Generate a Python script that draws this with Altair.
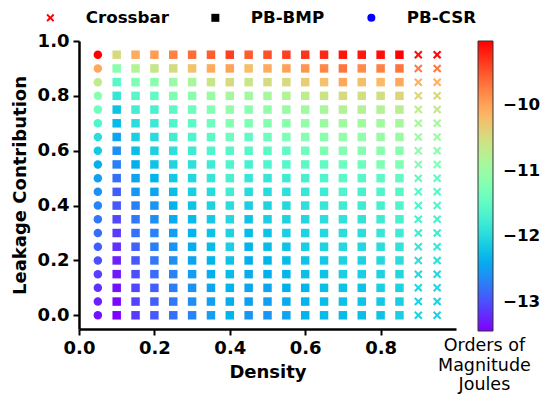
import altair as alt
import pandas as pd
import numpy as np

# Density (x) columns and leakage (y) rows
density = [0.05, 0.10, 0.15, 0.20, 0.25, 0.30, 0.35, 0.40, 0.45, 0.50,
           0.55, 0.60, 0.65, 0.70, 0.75, 0.80, 0.85, 0.90, 0.95]
architecture = ["PB-CSR"] + ["PB-BMP"] * 16 + ["Crossbar"] * 2
leakage = [0.95, 0.90, 0.85, 0.80, 0.75, 0.70, 0.65, 0.60, 0.55, 0.50,
           0.45, 0.40, 0.35, 0.30, 0.25, 0.20, 0.15, 0.10, 0.05, 0.00]

# Orders of magnitude (Joules), one list per leakage row (top to bottom)
energy = [
    [-9.03, -10.49, -10.07, -9.96, -9.78, -9.65, -9.56, -9.38, -9.54, -9.47, -9.38, -9.32, -9.25, -9.14, -9.16, -9.10, -9.03, -9.12, -9.07],
    [-10.04, -11.15, -10.79, -10.62, -10.49, -10.26, -10.07, -10.00, -10.22, -10.07, -10.00, -9.91, -9.82, -9.69, -9.85, -9.78, -9.69, -9.74, -9.74],
    [-10.68, -11.57, -11.24, -11.15, -11.00, -10.88, -10.62, -10.49, -10.62, -10.51, -10.49, -10.35, -10.26, -10.04, -10.22, -10.18, -10.04, -10.11, -10.11],
    [-11.15, -11.87, -11.57, -11.50, -11.24, -11.15, -11.00, -10.88, -10.93, -10.88, -10.79, -10.71, -10.57, -10.49, -10.53, -10.53, -10.44, -10.44, -10.44],
    [-11.39, -12.21, -11.76, -11.70, -11.54, -11.39, -11.19, -11.06, -11.15, -11.06, -11.00, -10.93, -10.88, -10.79, -10.79, -10.79, -10.71, -10.71, -10.66],
    [-11.65, -12.29, -11.96, -11.81, -11.65, -11.54, -11.39, -11.19, -11.24, -11.19, -11.15, -11.06, -11.00, -10.93, -10.93, -10.93, -10.88, -10.88, -10.88],
    [-11.96, -12.45, -12.10, -11.98, -11.76, -11.65, -11.54, -11.39, -11.50, -11.39, -11.24, -11.19, -11.15, -11.06, -11.06, -11.00, -11.00, -11.00, -11.00],
    [-12.16, -12.60, -12.25, -12.10, -11.94, -11.79, -11.65, -11.59, -11.59, -11.54, -11.50, -11.39, -11.24, -11.19, -11.19, -11.15, -11.15, -11.15, -11.15],
    [-12.38, -12.71, -12.38, -12.21, -12.05, -11.94, -11.79, -11.65, -11.72, -11.65, -11.59, -11.54, -11.50, -11.39, -11.39, -11.24, -11.24, -11.24, -11.24],
    [-12.49, -12.80, -12.45, -12.34, -12.16, -12.03, -11.85, -11.70, -11.85, -11.85, -11.79, -11.72, -11.65, -11.54, -11.59, -11.54, -11.50, -11.50, -11.50],
    [-12.60, -12.91, -12.56, -12.45, -12.25, -12.12, -11.98, -11.76, -11.98, -11.98, -11.94, -11.85, -11.79, -11.65, -11.72, -11.65, -11.59, -11.59, -11.59],
    [-12.67, -12.95, -12.71, -12.56, -12.34, -12.21, -12.07, -11.96, -12.12, -12.07, -12.01, -11.94, -11.85, -11.79, -11.79, -11.72, -11.65, -11.65, -11.65],
    [-12.76, -13.04, -12.76, -12.60, -12.40, -12.27, -12.16, -12.01, -12.21, -12.12, -12.07, -12.03, -11.96, -11.90, -11.90, -11.79, -11.72, -11.72, -11.72],
    [-12.82, -13.11, -12.80, -12.69, -12.49, -12.34, -12.21, -12.07, -12.27, -12.21, -12.12, -12.07, -12.01, -11.96, -11.96, -11.85, -11.79, -11.79, -11.79],
    [-12.91, -13.18, -12.89, -12.71, -12.56, -12.40, -12.27, -12.12, -12.34, -12.27, -12.21, -12.12, -12.07, -12.01, -12.03, -11.96, -11.90, -11.85, -11.85],
    [-13.00, -13.26, -12.95, -12.76, -12.60, -12.45, -12.34, -12.21, -12.38, -12.34, -12.27, -12.21, -12.16, -12.07, -12.07, -12.01, -11.96, -11.94, -11.94],
    [-13.09, -13.31, -13.00, -12.82, -12.69, -12.51, -12.38, -12.27, -12.40, -12.38, -12.32, -12.25, -12.21, -12.12, -12.12, -12.07, -12.03, -12.01, -12.01],
    [-13.18, -13.35, -13.04, -12.89, -12.71, -12.58, -12.45, -12.34, -12.45, -12.45, -12.38, -12.32, -12.25, -12.21, -12.21, -12.12, -12.07, -12.03, -12.03],
    [-13.26, -13.40, -13.07, -12.91, -12.76, -12.60, -12.49, -12.38, -12.49, -12.49, -12.40, -12.34, -12.27, -12.23, -12.21, -12.18, -12.12, -12.07, -12.07],
    [-13.35, -13.44, -13.11, -12.95, -12.80, -12.67, -12.51, -12.34, -12.56, -12.56, -12.45, -12.34, -12.27, -12.27, -12.25, -12.21, -12.12, -12.07, -12.07],
]

legend_types = ["Crossbar", "PB-BMP", "PB-CSR"]
legend_colors = ["#ff0000", "#000000", "#0000ff"]
cbar_ticks = [-13, -12, -11, -10]
cbar_title = ["Orders of", "Magnitude", "Joules"]

rows = []
for yi, lk in enumerate(leakage):
    for xi, d in enumerate(density):
        rows.append({"Density": d, "Leakage": lk, "Energy": energy[yi][xi],
                     "Type": architecture[xi]})
df = pd.DataFrame(rows)
legend_df = pd.DataFrame({"Type": legend_types})

# matplotlib "rainbow" colormap stops
lo, hi = -13.44, -9.03
n = 21
ts = np.linspace(0, 1, n)
def rainbow(t):
    r = min(1.0, abs(2 * t - 0.5))
    g = np.sin(np.pi * t)
    b = np.cos(np.pi * t / 2)
    return "#%02x%02x%02x" % (int(round(r * 255)), int(round(max(g, 0) * 255)), int(round(max(b, 0) * 255)))
cmap_range = [rainbow(t) for t in ts]
cmap_domain = [float(lo + (hi - lo) * t) for t in ts]

XPATH = "M-1,-0.65L-0.65,-1L0,-0.35L0.65,-1L1,-0.65L0.35,0L1,0.65L0.65,1L0,0.35L-0.65,1L-1,0.65L-0.35,0Z"
shape_scale = alt.Scale(domain=legend_types, range=[XPATH, "square", "circle"])

top_legend = alt.Legend(orient="none", legendX=-37, legendY=-32,
                        direction="horizontal", title=None,
                        symbolSize=64, symbolOpacity=1, symbolStrokeWidth=0,
                        labelFont="DejaVu Sans", labelFontWeight="bold",
                        labelFontSize=16.7, labelColor="black",
                        labelOffset=27, columnPadding=38, padding=0)

PFX = "\u2800"

points = alt.Chart(df).mark_point(filled=True, opacity=1, size=72).encode(
    x=alt.X("Density:Q", scale=alt.Scale(domain=[0, 1.0], nice=False, zero=False),
            axis=alt.Axis(values=[0, 0.2, 0.4, 0.6, 0.8], format=".1f", title="Density")),
    y=alt.Y("Leakage:Q", scale=alt.Scale(domain=[-0.05, 1.0], nice=False, zero=False),
            axis=alt.Axis(values=[0, 0.2, 0.4, 0.6, 0.8, 1.0], format=".1f",
                          title="Leakage Contribution")),
    color=alt.Color("Energy:Q",
                    scale=alt.Scale(domain=cmap_domain, range=cmap_range, interpolate="rgb"),
                    legend=alt.Legend(orient="none", legendX=346, legendY=0,
                                      direction="vertical", gradientLength=290,
                                      gradientThickness=15, gradientStrokeColor="#333333",
                                      gradientStrokeWidth=1,
                                      values=cbar_ticks, format="d",
                                      labelFont="DejaVu Sans", labelFontWeight="bold",
                                      labelFontSize=16.7, labelColor="black", labelOffset=10,
                                      title=[PFX + s for s in cbar_title],
                                      titleOrient="bottom", titleAlign="center",
                                      titleAnchor="start",
                                      titleFont="DejaVu Sans", titleFontWeight="normal",
                                      titleFontSize=17.5, titleColor="black",
                                      titleLineHeight=19.5, titlePadding=5, padding=0)),
    shape=alt.Shape("Type:N", scale=shape_scale, legend=top_legend),
)

legend_layer = alt.Chart(legend_df).mark_point(filled=True, opacity=1, size=0).encode(
    shape=alt.Shape("Type:N", scale=shape_scale, legend=top_legend),
    fill=alt.Fill("Type:N", scale=alt.Scale(domain=legend_types, range=legend_colors),
                  legend=top_legend),
)

chart = alt.layer(points, legend_layer).properties(
    width=377, height=288,
    padding={"left": 71, "top": 33, "right": 89, "bottom": 66},
    autosize=alt.AutoSizeParams(type="none"),
).configure_view(stroke=None).configure_axis(
    grid=False, domainColor="black", domainWidth=2.5, tickColor="black", tickWidth=2,
    tickSize=6, labelFont="DejaVu Sans", labelFontWeight="bold", labelFontSize=18,
    labelColor="black", titleFont="DejaVu Sans", titleFontWeight="bold",
    titleFontSize=18, titleColor="black", labelFlush=False,
).configure_axisX(titlePadding=6, labelPadding=4).configure_axisY(titlePadding=8, labelPadding=4)

chart.save("out.html", embed_options={"renderer": "svg", "actions": False})
